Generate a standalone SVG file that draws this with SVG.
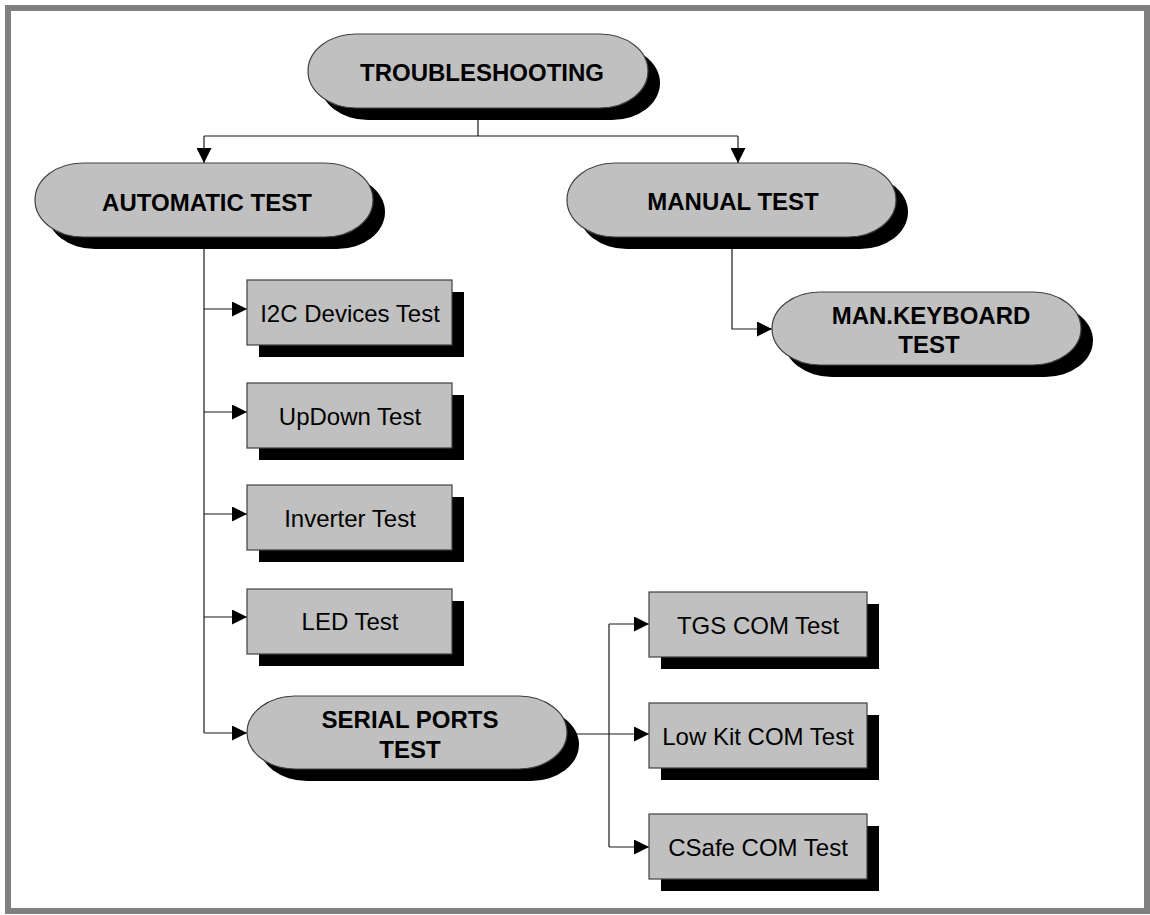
<svg xmlns="http://www.w3.org/2000/svg" width="1150" height="915" viewBox="0 0 1150 915">
  <style>
    .frame { fill: #ffffff; stroke: #808080; stroke-width: 6; }
    .shadow { fill: #000000; }
    .box { fill: #c0c0c0; stroke: #404040; stroke-width: 1.2; }
    .wire { fill: none; stroke: #1a1a1a; stroke-width: 1.2; }
    .bold { font-family: "Liberation Sans", Arial, sans-serif; font-weight: bold; font-size: 24px; fill: #000000; text-anchor: middle; }
    .reg { font-family: "Liberation Sans", Arial, sans-serif; font-size: 24px; fill: #000000; text-anchor: middle; }
  </style>
  <defs>
    <marker id="arrow" viewBox="0 0 15 15" refX="15" refY="7.5" markerWidth="15" markerHeight="15" markerUnits="userSpaceOnUse" orient="auto">
      <path d="M0,0 L15,7.5 L0,15 Z" fill="#000000"/>
    </marker>
  </defs>

  <!-- page frame -->
  <rect class="frame" x="8" y="8" width="1139" height="903"/>

  <!-- connectors -->
  <g id="connectors">
    <path class="wire" d="M478,108 V136"/>
    <path class="wire" d="M204,136 H738"/>
    <path class="wire" d="M204,136 V163" marker-end="url(#arrow)"/>
    <path class="wire" d="M738,136 V163" marker-end="url(#arrow)"/>

    <path class="wire" d="M204,237 V733"/>
    <path class="wire" d="M204,309 H247" marker-end="url(#arrow)"/>
    <path class="wire" d="M204,412 H247" marker-end="url(#arrow)"/>
    <path class="wire" d="M204,514 H247" marker-end="url(#arrow)"/>
    <path class="wire" d="M204,617 H247" marker-end="url(#arrow)"/>
    <path class="wire" d="M204,733 H247" marker-end="url(#arrow)"/>

    <path class="wire" d="M732,237 V329 H772" marker-end="url(#arrow)"/>

    <path class="wire" d="M567,734 H649" marker-end="url(#arrow)"/>
    <path class="wire" d="M609,624 V847"/>
    <path class="wire" d="M609,624 H649" marker-end="url(#arrow)"/>
    <path class="wire" d="M609,847 H649" marker-end="url(#arrow)"/>
  </g>

  <!-- terminator nodes -->
  <g id="troubleshooting">
    <rect class="shadow" x="320" y="46" width="340" height="74" rx="48" ry="37"/>
    <rect class="box" x="308" y="34" width="340" height="74" rx="48" ry="37"/>
    <text class="bold" x="482" y="81">TROUBLESHOOTING</text>
  </g>

  <g id="automatic-test">
    <rect class="shadow" x="47" y="175" width="338" height="74" rx="48" ry="37"/>
    <rect class="box" x="35" y="163" width="338" height="74" rx="48" ry="37"/>
    <text class="bold" x="207" y="211">AUTOMATIC TEST</text>
  </g>

  <g id="manual-test">
    <rect class="shadow" x="579" y="175" width="329" height="74" rx="48" ry="37"/>
    <rect class="box" x="567" y="163" width="329" height="74" rx="48" ry="37"/>
    <text class="bold" x="733" y="210">MANUAL TEST</text>
  </g>

  <g id="man-keyboard-test">
    <rect class="shadow" x="784" y="304" width="309" height="73" rx="48" ry="36.5"/>
    <rect class="box" x="772" y="292" width="309" height="73" rx="48" ry="36.5"/>
    <text class="bold" x="931" y="324">MAN.KEYBOARD</text>
    <text class="bold" x="929" y="353">TEST</text>
  </g>

  <g id="serial-ports-test">
    <rect class="shadow" x="259" y="708" width="320" height="73" rx="48" ry="36.5"/>
    <rect class="box" x="247" y="696" width="320" height="73" rx="48" ry="36.5"/>
    <text class="bold" x="410" y="728">SERIAL PORTS</text>
    <text class="bold" x="410" y="758">TEST</text>
  </g>

  <!-- process boxes -->
  <g id="i2c-devices-test">
    <rect class="shadow" x="259" y="292" width="205" height="65"/>
    <rect class="box" x="247" y="280" width="205" height="65"/>
    <text class="reg" x="350" y="322">I2C Devices Test</text>
  </g>

  <g id="updown-test">
    <rect class="shadow" x="259" y="395" width="205" height="65"/>
    <rect class="box" x="247" y="383" width="205" height="65"/>
    <text class="reg" x="350" y="425">UpDown Test</text>
  </g>

  <g id="inverter-test">
    <rect class="shadow" x="259" y="497" width="205" height="65"/>
    <rect class="box" x="247" y="485" width="205" height="65"/>
    <text class="reg" x="350" y="527">Inverter Test</text>
  </g>

  <g id="led-test">
    <rect class="shadow" x="259" y="601" width="205" height="65"/>
    <rect class="box" x="247" y="589" width="205" height="65"/>
    <text class="reg" x="350" y="630">LED Test</text>
  </g>

  <g id="tgs-com-test">
    <rect class="shadow" x="661" y="604" width="218" height="65"/>
    <rect class="box" x="649" y="592" width="218" height="65"/>
    <text class="reg" x="758" y="634">TGS COM Test</text>
  </g>

  <g id="low-kit-com-test">
    <rect class="shadow" x="661" y="715" width="218" height="65"/>
    <rect class="box" x="649" y="703" width="218" height="65"/>
    <text class="reg" x="758" y="745">Low Kit COM Test</text>
  </g>

  <g id="csafe-com-test">
    <rect class="shadow" x="661" y="826" width="218" height="65"/>
    <rect class="box" x="649" y="814" width="218" height="65"/>
    <text class="reg" x="758" y="856">CSafe COM Test</text>
  </g>
</svg>
